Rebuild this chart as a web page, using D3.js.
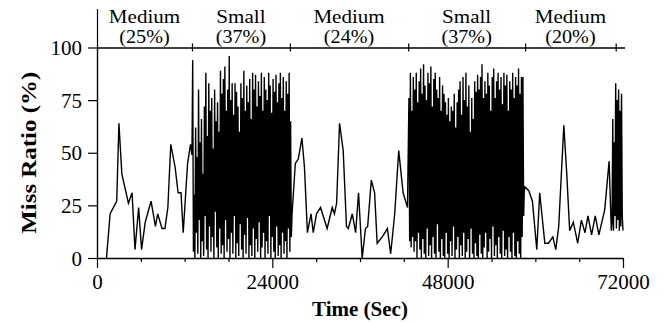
<!DOCTYPE html>
<html>
<head>
<meta charset="utf-8">
<script src="https://cdn.jsdelivr.net/npm/d3@7"></script>
<style>
  html, body { margin: 0; padding: 0; background: #fff; }
  svg { display: block; }
  text { font-family: "Liberation Serif", "Times New Roman", serif; fill: #000; }
</style>
</head>
<body>
<svg id="chart" width="665" height="322"></svg>
<script>
// ---------------- data ----------------
const xTicks = [0, 24000, 48000, 72000];
const xMinorTicks = [6000, 12000, 18000, 30000, 36000, 42000, 54000, 60000, 66000];
const yTicks = [0, 25, 50, 75, 100];

const regionBounds = [0, 13000, 26400, 42600, 58600, 71000];
const regionNames = ["Medium", "Small", "Medium", "Small", "Medium"];
const regionPct = ["(25%)", "(37%)", "(24%)", "(37%)", "(20%)"];

// sparse (medium cache) segments: time (sec) and miss ratio (%)
const med1Time = [1300, 1800, 2700, 3000, 3400, 4300, 4800, 5200, 5700, 6100, 6600, 7400, 8000, 8300, 8900, 9300, 9700, 10100, 10700, 11100, 11500, 11800, 12400, 12800, 13000];
const med1Miss = [0, 21, 27, 64, 40, 26, 31, 4, 24, 4, 17, 27, 15, 21, 14, 14, 24, 54, 43, 31, 31, 12, 45, 54, 49];

const med2Time = [26700, 27150, 27550, 28050, 28400, 28800, 29300, 29600, 30050, 30600, 31500, 32200, 32500, 32800, 33200, 33700, 34150, 34400, 34950, 35400, 35800, 36300, 36750, 37050, 37550, 38000, 38350, 39050, 39750, 40200, 40750, 41300, 41900, 42500];
const med2Miss = [21, 45, 47, 57, 43, 12, 21, 12, 21, 24, 14, 24, 21, 26, 64, 51, 15, 14, 21, 12, 31, 0, 14, 15, 37, 31, 7, 10, 14, 2, 21, 51, 31, 24];

const med3Time = [58500, 59100, 59600, 60200, 60600, 61300, 61800, 62400, 62800, 63200, 63900, 64300, 64700, 65200, 65800, 66300, 66800, 67200, 67700, 68200, 68700, 69500, 70100, 70400];
const med3Miss = [34, 32, 27, 4, 31, 7, 7, 10, 4, 15, 63, 40, 13, 17, 7, 18, 12, 20, 11, 20, 11, 23, 46, 13];

// dense (small cache) segments: sampled every 100 s
const sampleStep = 100;
const small1Start = 13100;
const small1Miss = [
  94,3, 30,0, 62,12, 48,2, 80,18, 55,0, 66,8, 40,1, 72,20, 88,4,
  58,0, 83,15, 70,3, 76,10, 52,0, 80,22, 65,5, 74,0, 60,14, 89,2,
  78,6, 85,0, 91,18, 70,3, 80,9, 96,0, 75,12, 83,2, 68,20, 83,0,
  79,7, 72,1, 60,16, 83,4, 76,0, 89,11, 70,2, 82,19, 74,0, 85,6,
  66,1, 88,14, 80,0, 87,9, 72,3, 84,17, 77,0, 88,5, 70,12, 86,0,
  80,8, 75,2, 88,20, 82,0, 69,10, 85,3, 79,0, 87,15, 74,1, 83,6,
  88,0, 76,12, 86,2, 70,8, 84,0, 78,14, 88,3, 65,10
];
const small2Start = 42700;
const small2Miss = [
  76,8, 88,5, 70,10, 86,3, 80,8, 88,0, 74,12, 84,4, 90,0, 78,9,
  92,2, 82,0, 75,14, 88,1, 83,6, 91,0, 72,10, 85,2, 88,0, 80,16,
  76,3, 86,0, 70,9, 82,1, 78,0, 74,12, 68,2, 76,0, 65,8, 72,1,
  70,15, 78,0, 62,4, 74,10, 80,0, 84,6, 68,1, 86,12, 75,0, 88,3,
  72,9, 82,0, 60,14, 76,2, 66,0, 84,7, 79,1, 87,0, 80,11, 86,2,
  92,0, 76,5, 84,12, 78,0, 88,3, 82,9, 70,0, 86,15, 90,1, 76,6,
  84,0, 88,10, 80,2, 86,0, 73,13, 88,1, 82,4, 87,0, 70,10, 84,3,
  80,0, 88,12, 76,1, 86,0, 82,8, 90,2, 78,0, 86,10, 86,20
];
const small3Start = 70500;
const small3Miss = [17, 66, 13, 55, 20, 83, 14, 75, 18, 80, 13, 70, 15, 78, 20, 13];

// ---------------- build series ----------------
function pairs(times, vals) { return times.map((t, i) => [t, vals[i]]); }
function sampled(start, vals) { return vals.map((v, i) => [start + i * sampleStep, v]); }
const series = [].concat(
  pairs(med1Time, med1Miss),
  sampled(small1Start, small1Miss),
  pairs(med2Time, med2Miss),
  sampled(small2Start, small2Miss),
  pairs(med3Time, med3Miss),
  sampled(small3Start, small3Miss)
);

// ---------------- chart ----------------
const svg = d3.select("#chart");
const x = d3.scaleLinear().domain([0, 72000]).range([97, 623]);
const y = d3.scaleLinear().domain([0, 100]).range([258, 47.5]);
const FS = 21;

// data line
svg.append("path")
  .datum(series)
  .attr("fill", "none")
  .attr("stroke", "#000")
  .attr("stroke-width", 1.4)
  .attr("stroke-linejoin", "miter")
  .attr("d", d3.line().x(d => x(d[0])).y(d => y(d[1])));

// bottom axis
const gx = svg.append("g").attr("transform", `translate(0,${y(0)})`)
  .call(d3.axisBottom(x).tickValues(xTicks).tickSize(10).tickSizeOuter(0).tickPadding(6).tickFormat(d3.format("d")));
gx.selectAll("text").style("font-size", FS + "px");
svg.append("g").attr("transform", `translate(0,${y(0)})`)
  .call(d3.axisBottom(x).tickValues(xMinorTicks).tickSize(4).tickSizeOuter(0).tickFormat(""))
  .select(".domain").remove();

// left axis
const gy = svg.append("g").attr("transform", `translate(${x(0)},0)`)
  .call(d3.axisLeft(y).tickValues(yTicks).tickSize(9).tickSizeOuter(0).tickPadding(6));
gy.selectAll("text").style("font-size", FS + "px").attr("dy", "0.34em");

// top (region) axis
const regionScaleTicks = regionBounds.slice(1);
const gt = svg.append("g").attr("transform", `translate(0,${y(100)})`)
  .call(d3.axisTop(x).tickValues(regionScaleTicks).tickSize(4).tickSizeOuter(0).tickFormat(""));
gt.select(".domain").attr("d", `M${x(0)},0.5H${x(72000) + 2}`);
svg.append("g").attr("transform", `translate(0,${y(100)})`)
  .call(d3.axisBottom(x).tickValues(regionScaleTicks).tickSize(4).tickSizeOuter(0).tickFormat(""))
  .select(".domain").remove();
// left axis extension above the top axis
svg.append("line")
  .attr("x1", x(0) + 0.5).attr("x2", x(0) + 0.5)
  .attr("y1", 9).attr("y2", y(100))
  .attr("stroke", "#000").attr("stroke-width", 1.2);

svg.selectAll(".domain").attr("stroke-width", 1.4);
svg.selectAll(".tick line").attr("stroke-width", 1.2);

// region labels (slightly widened glyphs, two tight lines)
const regions = regionNames.map((n, i) => ({
  name: n, pct: regionPct[i],
  cx: (x(regionBounds[i]) + x(regionBounds[i + 1])) / 2
}));
const lg = svg.append("g").selectAll("g").data(regions).join("g");
lg.append("text").attr("transform", d => `translate(${d.cx},22.5) scale(1.17,1)`)
  .attr("text-anchor", "middle").style("font-size", "18px").text(d => d.name);
lg.append("text").attr("transform", d => `translate(${d.cx},42.5) scale(1.12,1)`)
  .attr("text-anchor", "middle").style("font-size", "18px").text(d => d.pct);

// axis titles
svg.append("text").attr("x", (x(0) + x(72000)) / 2).attr("y", 316)
  .attr("text-anchor", "middle").style("font-size", "21px").style("font-weight", "bold")
  .text("Time (Sec)");
svg.append("text")
  .attr("transform", `translate(36,${(y(0) + y(100)) / 2}) rotate(-90)`)
  .attr("text-anchor", "middle").style("font-size", "21px").style("font-weight", "bold")
  .attr("textLength", 162).attr("lengthAdjust", "spacingAndGlyphs")
  .text("Miss Ratio (%)");
</script>
</body>
</html>
